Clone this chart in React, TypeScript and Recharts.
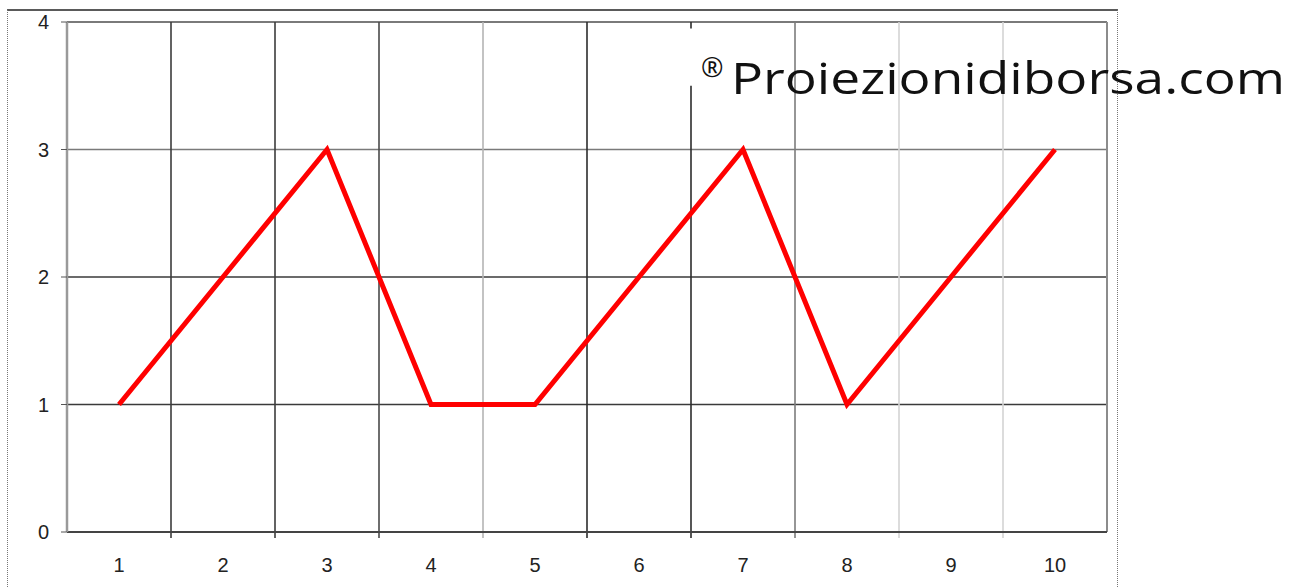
import React from "react";
import { LineChart, Line, XAxis, YAxis, ReferenceLine } from "recharts";

const categories = [1, 2, 3, 4, 5, 6, 7, 8, 9, 10];
const values = [1, 2, 3, 1, 1, 2, 3, 1, 2, 3];
const yTicks = [0, 1, 2, 3, 4];
const watermark = "Proiezionidiborsa.com";

const data = categories.map((c, i) => ({ x: c, v: values[i] }));
const boundaries = categories.map((c) => c + 0.5);
const boundaryColors = ["#3c3c3c", "#3c3c3c", "#4a4a4a", "#b4b4b4", "#2c2c2c", "#2c2c2c", "#7c7c7c", "#d4d4d4", "#d4d4d4", "#8c8c8c"];
const hLineColors: Record<number, string> = { 1: "#3a3a3a", 2: "#3a3a3a", 3: "#7a7a7a", 4: "#7a7a7a" };

const font = "'Liberation Sans', Arial, sans-serif";
const TICK_FONT = 20;
const TICK_DROP = -0.047;

const AxisTick = (props: any) => {
  const { x, y, payload, textAnchor, dy } = props;
  return (
    <text
      x={x}
      y={y}
      dy={dy}
      textAnchor={textAnchor}
      fill="#222"
      fontSize={TICK_FONT}
      fontFamily={font}
    >
      {payload.value}
    </text>
  );
};

const XTick = (props: any) => <AxisTick {...props} dy={TICK_FONT * 0.71} textAnchor="middle" />;
const YTick = (props: any) => <AxisTick {...props} dy={TICK_FONT * 0.35} textAnchor="end" />;

export default function App() {
  return (
    <div style={{ position: "absolute", left: 0, top: 0, width: 1304, height: 587, background: "#fff", overflow: "hidden" }}>
      <div
        style={{
          position: "absolute",
          left: 7,
          top: 9,
          width: 1111,
          height: 600,
          borderTop: "2px solid #5a5a5a",
          borderLeft: "1px dotted #777",
          borderRight: "1px dotted #777",
          boxSizing: "border-box",
        }}
      />
      <div style={{ position: "absolute", left: 0, top: 0 }}>
        <LineChart width={1304} height={587} data={data} margin={{ top: 22, right: 197, bottom: 0, left: 0 }}>
          <XAxis
            dataKey="x"
            type="number"
            domain={[0.5, 10.5]}
            ticks={categories}
            tickLine={false}
            tickSize={0}
            tickMargin={26}
            height={55}
            axisLine={{ stroke: "#444", strokeWidth: 2 }}
            tick={XTick}
            allowDataOverflow
          />
          <YAxis
            type="number"
            domain={[0, 4]}
            ticks={yTicks}
            width={67}
            tickSize={6}
            tickMargin={12}
            tickLine={{ stroke: "#555" }}
            axisLine={{ stroke: "#9a9a9a", strokeWidth: 2.5 }}
            tick={YTick}
          />
          {yTicks
            .filter((t) => t > 0)
            .map((t) => (
              <ReferenceLine key={"h" + t} y={t} stroke={hLineColors[t]} strokeWidth={t === 4 ? 2 : 1.6} />
            ))}
          {boundaries.map((b, i) =>
            b === 6.5 ? (
              <React.Fragment key={"v" + i}>
                <ReferenceLine
                  segment={[{ x: b, y: TICK_DROP }, { x: b, y: 3.5 }]}
                  stroke={boundaryColors[i]}
                  strokeWidth={1.6}
                  ifOverflow="visible"
                />
                <ReferenceLine
                  segment={[{ x: b, y: 3.95 }, { x: b, y: 4 }]}
                  stroke={boundaryColors[i]}
                  strokeWidth={1.6}
                  ifOverflow="visible"
                />
              </React.Fragment>
            ) : (
              <ReferenceLine
                key={"v" + i}
                segment={[{ x: b, y: b === 10.5 ? 0 : TICK_DROP }, { x: b, y: 4 }]}
                stroke={boundaryColors[i]}
                strokeWidth={b === 10.5 ? 2 : 1.6}
                ifOverflow="visible"
              />
            )
          )}
          <Line
            type="linear"
            dataKey="v"
            stroke="#ff0000"
            strokeWidth={5}
            dot={false}
            activeDot={false}
            isAnimationActive={false}
          />
        </LineChart>
      </div>
      <svg style={{ position: "absolute", left: 0, top: 0 }} width={1304} height={587}>
        <text x={701} y={77} fontFamily="'Open Sans', sans-serif" fontSize={27} fill="#111">
          ®
        </text>
        <text
          x={731}
          y={94}
          fontFamily="'Open Sans', sans-serif"
          fontSize={44}
          fill="#111"
          textLength={554}
          lengthAdjust="spacingAndGlyphs"
        >
          {watermark}
        </text>
      </svg>
    </div>
  );
}
